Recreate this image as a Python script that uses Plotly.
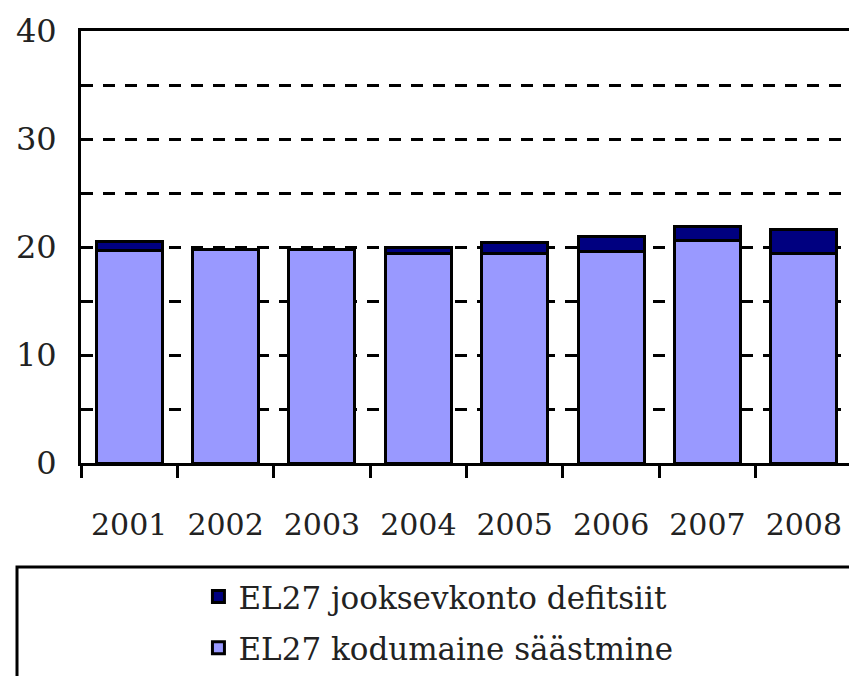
import plotly.graph_objects as go

# Data
years = ["2001", "2002", "2003", "2004", "2005", "2006", "2007", "2008"]
savings = [19.7, 19.8, 19.8, 19.4, 19.4, 19.6, 20.6, 19.4]
deficit = [0.8, None, None, 0.6, 1.0, 1.4, 1.3, 2.2]
y_tickvals = [0, 5, 10, 15, 20, 25, 30, 35, 40]
y_ticktext = ["0", "", "10", "", "20", "", "30", "", "40"]

serif = "DejaVu Serif"

fig = go.Figure()

fig.add_trace(go.Bar(
    x=years, y=savings,
    name="EL27 kodumaine säästmine",
    legendgroup="a", legendrank=2,
    marker=dict(color="#9999FF", line=dict(color="black", width=3)),
))
fig.add_trace(go.Bar(
    x=years, y=deficit,
    name="EL27 jooksevkonto defitsiit",
    legendgroup="b", legendrank=1,
    marker=dict(color="#000080", line=dict(color="black", width=3)),
))

# page body has an 8px margin, so the figure is a bit smaller than the window
fig.update_layout(
    barmode="stack",
    bargap=0.315,
    width=849, height=668,
    margin=dict(l=73, r=5, t=23, b=213, autoexpand=False),
    paper_bgcolor="white",
    plot_bgcolor="white",
    font=dict(family=serif, size=32, color="#222"),
    showlegend=True,
    legend=dict(
        xref="container", yref="container",
        x=0.507, xanchor="center",
        y=0.159, yanchor="top",
        traceorder="grouped",
        font=dict(family=serif, size=31, color="#222"),
        bgcolor="rgba(0,0,0,0)",
        itemwidth=30,
        tracegroupgap=8,
    ),
    xaxis=dict(
        type="category",
        automargin=False,
        showline=True, linecolor="black", linewidth=3,
        mirror=True,
        ticks="outside", tickson="boundaries",
        ticklen=12, tickwidth=3, tickcolor="black",
        ticklabelstandoff=33,
        showgrid=False,
        tickfont=dict(family=serif, size=30, color="#222"),
    ),
    yaxis=dict(
        range=[0, 40],
        automargin=False,
        tickvals=y_tickvals, ticktext=y_ticktext,
        showline=True, linecolor="black", linewidth=3,
        mirror=True,
        ticks="inside", ticklen=12, tickwidth=3, tickcolor="black",
        showgrid=True, gridcolor="black", gridwidth=3,
        griddash="12px,10px",
        zeroline=False,
        ticklabelstandoff=15,
        tickfont=dict(family=serif, size=32, color="#222"),
    ),
    shapes=[dict(
        type="rect", xref="paper", yref="paper",
        x0=-0.083, x1=1.0, y0=-0.241, y1=-0.6,
        line=dict(color="black", width=3),
        fillcolor="rgba(0,0,0,0)",
        layer="below",
    )],
)

fig.write_html("out.html")
